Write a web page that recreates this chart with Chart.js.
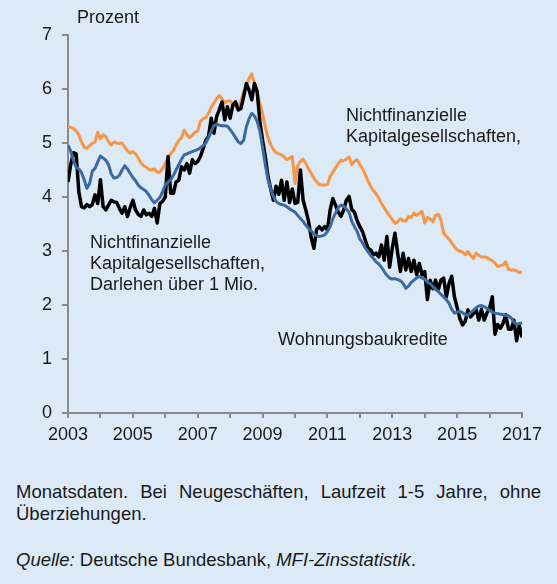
<!DOCTYPE html>
<html lang="de">
<head>
<meta charset="utf-8">
<title>Zinsen für Bankkredite</title>
<script src="https://cdn.jsdelivr.net/npm/chart.js@4.4.1/dist/chart.umd.min.js"></script>
<style>
  html, body {
    margin: 0;
    padding: 0;
    background: #dce9f6;
    width: 557px;
    height: 584px;
    overflow: hidden;
    font-family: "Liberation Sans", Arial, sans-serif;
    color: #1a1a1a;
  }
  #chart {
    position: absolute;
    left: 0;
    top: 0;
  }
  .note {
    position: absolute;
    left: 16px;
    width: 525px;
    font-size: 18.5px;
    line-height: 22px;
  }
  .note .just {
    text-align: justify;
    text-align-last: justify;
  }
</style>
</head>
<body>
<canvas id="chart" width="557" height="460"></canvas>
<div class="note" style="top:481px">
  <div class="just">Monatsdaten. Bei Neugeschäften, Laufzeit 1-5 Jahre, ohne</div>
  <div>Überziehungen.</div>
</div>
<div class="note" style="top:549px"><i>Quelle:</i> Deutsche Bundesbank, <i>MFI-Zinsstatistik</i>.</div>

<script>
'use strict';

// Monatswerte ab Januar 2003, in Prozent
var startYear = 2003;

// Nichtfinanzielle Kapitalgesellschaften (orange)
var nfkValues = [
  5.30, 5.29, 5.27, 5.22, 5.15, 5.02, 4.92, 4.90, 4.95, 4.99, 5.02, 5.20,
  5.08, 5.15, 5.12, 5.02, 4.96, 5.02, 5.00, 4.99, 5.00, 4.92, 4.86, 4.81,
  4.84, 4.80, 4.72, 4.63, 4.58, 4.55, 4.51, 4.50, 4.52, 4.46, 4.46, 4.53,
  4.62, 4.72, 4.80, 4.86, 4.96, 5.05, 5.10, 5.24, 5.15, 5.10, 5.14, 5.20,
  5.22, 5.40, 5.45, 5.47, 5.55, 5.66, 5.74, 5.82, 5.88, 5.82, 5.74, 5.78,
  5.78, 5.71, 5.68, 5.64, 5.78, 5.95, 6.04, 6.20, 6.28, 6.10, 5.92, 5.74,
  5.55, 5.30, 5.10, 4.97, 4.88, 4.82, 4.80, 4.78, 4.74, 4.69, 4.72, 4.75,
  4.25, 4.58, 4.66, 4.70, 4.62, 4.52, 4.44, 4.35, 4.28, 4.23, 4.22, 4.22,
  4.23, 4.38, 4.46, 4.54, 4.62, 4.68, 4.67, 4.70, 4.74, 4.60, 4.66, 4.69,
  4.60, 4.52, 4.42, 4.30, 4.20, 4.12, 4.06, 3.98, 3.88, 3.80, 3.72, 3.65,
  3.58, 3.51, 3.54, 3.60, 3.56, 3.55, 3.64, 3.62, 3.70, 3.66, 3.70, 3.73,
  3.52, 3.62, 3.60, 3.54, 3.66, 3.68, 3.58, 3.33, 3.27, 3.22, 3.15, 3.08,
  3.02, 3.00, 2.98, 2.93, 2.99, 2.92, 2.86, 2.96, 2.92, 2.89, 2.89, 2.88,
  2.85, 2.82, 2.78, 2.71, 2.73, 2.74, 2.80, 2.66, 2.65, 2.65, 2.63, 2.60,
  2.61
];

// Nichtfinanzielle Kapitalgesellschaften, Darlehen über 1 Mio. (schwarz)
var nfkGrossValues = [
  4.28, 4.60, 4.82, 4.80, 4.10, 3.82, 3.80, 3.86, 3.82, 3.86, 4.04, 3.88,
  4.32, 3.82, 3.76, 3.85, 3.94, 3.91, 3.90, 3.79, 3.70, 3.82, 3.64, 3.80,
  3.94, 3.76, 3.68, 3.64, 3.76, 3.67, 3.70, 3.64, 3.79, 3.52, 3.88, 3.92,
  4.00, 4.75, 4.07, 4.07, 4.28, 4.31, 4.56, 4.50, 4.62, 4.44, 4.69, 4.62,
  4.66, 4.75, 4.90, 5.05, 5.12, 5.46, 5.18, 5.49, 5.62, 5.76, 5.43, 5.67,
  5.46, 5.70, 5.76, 5.61, 5.64, 5.86, 6.10, 5.98, 5.80, 6.10, 5.95, 5.40,
  5.05, 4.75, 4.38, 4.15, 3.94, 4.20, 4.05, 4.31, 3.94, 4.28, 3.90, 4.15,
  3.88, 3.90, 4.50, 3.94, 3.76, 3.55, 3.25, 3.05, 3.40, 3.45, 3.39, 3.45,
  3.39, 3.76, 3.97, 3.85, 3.72, 3.64, 3.76, 3.94, 4.01, 3.77, 3.72, 3.56,
  3.45, 3.36, 3.20, 3.05, 3.02, 2.93, 2.96, 2.89, 3.11, 2.83, 3.27, 2.70,
  3.05, 3.33, 2.96, 2.62, 2.96, 2.65, 2.86, 2.62, 2.83, 2.56, 2.77, 2.56,
  2.62, 2.10, 2.46, 2.30, 2.46, 2.28, 2.46, 2.50, 2.15, 2.40, 2.53, 2.15,
  1.95, 1.75, 1.63, 1.70, 1.91, 1.78, 1.84, 1.92, 1.72, 1.92, 1.72, 1.85,
  1.94, 2.15, 1.46, 1.64, 1.57, 1.66, 1.82, 1.55, 1.55, 1.72, 1.34, 1.62,
  1.40
];

// Wohnungsbaukredite (blau)
var housingValues = [
  4.96, 4.85, 4.68, 4.55, 4.52, 4.45, 4.32, 4.16, 4.25, 4.48, 4.53, 4.65,
  4.76, 4.72, 4.68, 4.60, 4.43, 4.35, 4.36, 4.40, 4.50, 4.58, 4.52, 4.44,
  4.36, 4.30, 4.22, 4.17, 4.14, 4.10, 4.03, 3.95, 3.89, 3.94, 3.99, 4.10,
  4.22, 4.28, 4.32, 4.40, 4.50, 4.60, 4.70, 4.78, 4.80, 4.82, 4.84, 4.86,
  4.88, 4.91, 4.95, 5.00, 5.10, 5.22, 5.32, 5.35, 5.33, 5.32, 5.32, 5.31,
  5.25, 5.18, 5.10, 5.02, 4.99, 5.05, 5.30, 5.45, 5.55, 5.50, 5.40, 5.22,
  4.92, 4.60, 4.32, 4.15, 4.01, 3.92, 3.88, 3.86, 3.85, 3.82, 3.78, 3.75,
  3.72, 3.66, 3.60, 3.55, 3.48, 3.42, 3.37, 3.32, 3.28, 3.27, 3.28, 3.30,
  3.36, 3.45, 3.60, 3.70, 3.80, 3.85, 3.83, 3.78, 3.72, 3.55, 3.45, 3.36,
  3.22, 3.15, 3.06, 2.99, 2.92, 2.86, 2.80, 2.76, 2.70, 2.62, 2.55, 2.50,
  2.48, 2.49, 2.47, 2.45, 2.40, 2.31, 2.35, 2.42, 2.46, 2.50, 2.53, 2.50,
  2.48, 2.42, 2.40, 2.34, 2.29, 2.25, 2.20, 2.15, 2.10, 2.03, 1.92, 1.85,
  1.87, 1.88, 1.86, 1.82, 1.81, 1.86, 1.90, 1.95, 1.98, 1.99, 1.97, 1.94,
  1.90, 1.87, 1.85, 1.84, 1.83, 1.82, 1.81, 1.80, 1.76, 1.68, 1.64, 1.66,
  1.66
];

var xLabelYears = [2003, 2005, 2007, 2009, 2011, 2013, 2015, 2017];
var yTicks = [0, 1, 2, 3, 4, 5, 6, 7];

var FONT = '"Liberation Sans", Arial, sans-serif';
var AXIS_GREY = '#8a8a8a';

function toPoints(values) {
  return values.map(function (v, i) {
    return { x: startYear + i / 12, y: v };
  });
}

// Beschriftungen direkt im Diagramm
var annotations = [
  { lines: ['Prozent'], x: 77, y: 23 },
  { lines: ['Nichtfinanzielle', 'Kapitalgesellschaften,'], x: 346, y: 121 },
  { lines: ['Nichtfinanzielle', 'Kapitalgesellschaften,', 'Darlehen über 1 Mio.'], x: 90, y: 248 },
  { lines: ['Wohnungsbaukredite'], x: 278, y: 345 }
];

var annotationPlugin = {
  id: 'annotations',
  afterDraw: function (chart) {
    var ctx = chart.ctx;
    ctx.save();
    ctx.font = '18px ' + FONT;
    ctx.fillStyle = '#1a1a1a';
    ctx.textAlign = 'left';
    ctx.textBaseline = 'alphabetic';
    annotations.forEach(function (a) {
      a.lines.forEach(function (line, k) {
        ctx.fillText(line, a.x, a.y + k * 21);
      });
    });
    ctx.restore();
  }
};

var ctx = document.getElementById('chart').getContext('2d');

new Chart(ctx, {
  type: 'line',
  data: {
    datasets: [{
      label: 'Wohnungsbaukredite',
      data: toPoints(housingValues),
      borderColor: '#3b6aa0',
      borderWidth: 3,
      order: 1
    }, {
      label: 'Nichtfinanzielle Kapitalgesellschaften, Darlehen über 1 Mio.',
      data: toPoints(nfkGrossValues),
      borderColor: '#000000',
      borderWidth: 3.5,
      order: 2
    }, {
      label: 'Nichtfinanzielle Kapitalgesellschaften',
      data: toPoints(nfkValues),
      borderColor: '#f79646',
      borderWidth: 3,
      order: 3
    }]
  },
  options: {
    animation: false,
    responsive: false,
    elements: {
      point: { radius: 0 },
      line: { tension: 0, borderJoinStyle: 'round', borderCapStyle: 'butt' }
    },
    layout: {
      padding: { top: 35, right: 35, left: 0, bottom: 0 }
    },
    scales: {
      x: {
        type: 'linear',
        min: 2003,
        max: 2017,
        border: { color: AXIS_GREY, width: 2 },
        grid: { drawOnChartArea: false, color: AXIS_GREY, tickLength: 5, lineWidth: 2 },
        ticks: {
          stepSize: 1,
          autoSkip: false,
          maxRotation: 0,
          padding: 6,
          color: '#1a1a1a',
          font: { family: FONT, size: 18 },
          callback: function (value) {
            return xLabelYears.indexOf(value) >= 0 ? String(value) : '';
          }
        },
        afterFit: function (scale) {
          scale.height = 47;
        }
      },
      y: {
        min: yTicks[0],
        max: yTicks[yTicks.length - 1],
        border: { color: AXIS_GREY, width: 2 },
        grid: { drawOnChartArea: false, color: AXIS_GREY, tickLength: 6, lineWidth: 2 },
        ticks: {
          stepSize: 1,
          padding: 10,
          color: '#1a1a1a',
          font: { family: FONT, size: 18 }
        },
        afterFit: function (scale) {
          scale.width = 68;
        }
      }
    },
    plugins: {
      legend: { display: false },
      tooltip: { enabled: false }
    }
  },
  plugins: [annotationPlugin]
});
</script>
</body>
</html>
